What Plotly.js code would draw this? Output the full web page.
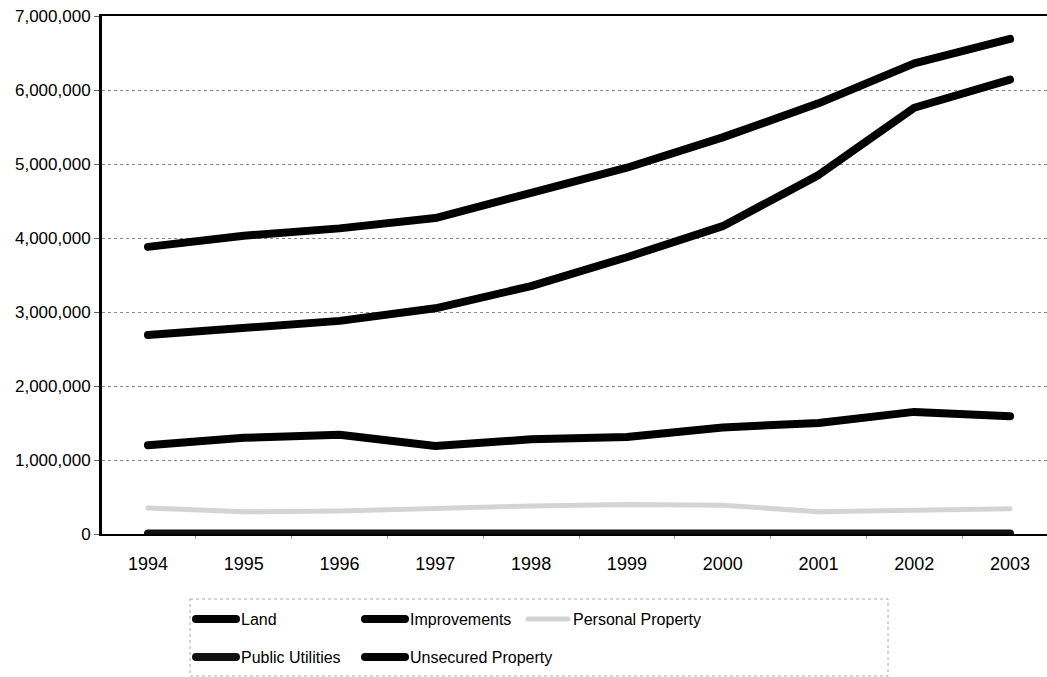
<!DOCTYPE html>
<html>
<head>
<meta charset="utf-8">
<script src="https://cdn.plot.ly/plotly-3.0.1.min.js"></script>
<style>
html,body{margin:0;padding:0;background:#fff;}
#chart{width:1047px;height:677px;}
#chart path.js-line, #chart .legendlines path { stroke-linecap: round; stroke-linejoin: round; }
</style>
</head>
<body>
<div id="chart"></div>
<script>
var years = ['1994','1995','1996','1997','1998','1999','2000','2001','2002','2003'];
var land = [2690000, 2780000, 2880000, 3050000, 3350000, 3740000, 4160000, 4850000, 5760000, 6140000];
var improvements = [3880000, 4030000, 4130000, 4270000, 4610000, 4950000, 5360000, 5820000, 6360000, 6690000];
var personalProperty = [350000, 300000, 310000, 350000, 380000, 400000, 390000, 300000, 320000, 340000];
var publicUtilities = [8000, 8000, 8000, 8000, 8000, 8000, 8000, 8000, 8000, 8000];
var unsecuredProperty = [1200000, 1300000, 1340000, 1190000, 1280000, 1310000, 1440000, 1500000, 1650000, 1590000];
var yTicks = [0, 1000000, 2000000, 3000000, 4000000, 5000000, 6000000, 7000000];
var yTickText = ['0', '1,000,000', '2,000,000', '3,000,000', '4,000,000', '5,000,000', '6,000,000', '7,000,000'];

var FONT = 'Liberation Sans, Arial, sans-serif';

function tr(name, y, color, width, legend) {
  return {
    type: 'scatter', mode: 'lines', name: name, x: years, y: y,
    line: {color: color, width: width},
    legend: legend, hoverinfo: 'x+y+name'
  };
}

var data = [
  tr('Land', land, '#000000', 8, 'legend'),
  tr('Improvements', improvements, '#000000', 8, 'legend2'),
  tr('Personal Property', personalProperty, '#d4d4d4', 5, 'legend3'),
  tr('Public Utilities', publicUtilities, '#111111', 8, 'legend4'),
  tr('Unsecured Property', unsecuredProperty, '#000000', 8, 'legend5')
];

var W = 945, H = 518;
function leg(px, py) {
  return {
    orientation: 'v', xanchor: 'left', yanchor: 'middle',
    x: (px - 102) / W, y: (534 - py) / H, itemwidth: 40,
    font: {family: FONT, size: 16, color: '#000'},
    bgcolor: 'rgba(0,0,0,0)', borderwidth: 0
  };
}
var layout = {
  width: 1047, height: 677,
  margin: {l: 102, r: 0, t: 16, b: 143, pad: 0},
  paper_bgcolor: '#ffffff', plot_bgcolor: '#ffffff',
  showlegend: true,
  font: {family: FONT, size: 17, color: '#000'},
  xaxis: {
    type: 'category', range: [-0.48, 9.386],
    showline: true, linecolor: '#000', linewidth: 2, mirror: true,
    showgrid: false, zeroline: false,
    ticks: 'outside', ticklen: 3, tickcolor: '#999', tickson: 'boundaries',
    ticklabelstandoff: 12,
    tickfont: {family: FONT, size: 18, color: '#000'}
  },
  yaxis: {
    range: [0, 7000000], tickvals: yTicks, ticktext: yTickText,
    showline: true, linecolor: '#000', linewidth: 3,
    showgrid: true, gridcolor: '#8a8a8a', gridwidth: 1, griddash: 'dot',
    zeroline: false,
    ticks: 'outside', ticklen: 5, tickcolor: '#666',
    tickfont: {family: FONT, size: 17, color: '#000'}
  },
  legend: leg(191, 619),
  legend2: leg(360, 619),
  legend3: leg(523, 619),
  legend4: leg(191, 657),
  legend5: leg(360, 657),
  shapes: [{
    type: 'rect', xref: 'paper', yref: 'paper',
    x0: 88 / W, x1: 786 / W, y0: -65 / H, y1: -142 / H,
    line: {color: '#aaa', width: 1, dash: 'dot'}, fillcolor: 'rgba(0,0,0,0)'
  }]
};

Plotly.newPlot('chart', data, layout, {displayModeBar: false, responsive: false});
</script>
</body>
</html>
